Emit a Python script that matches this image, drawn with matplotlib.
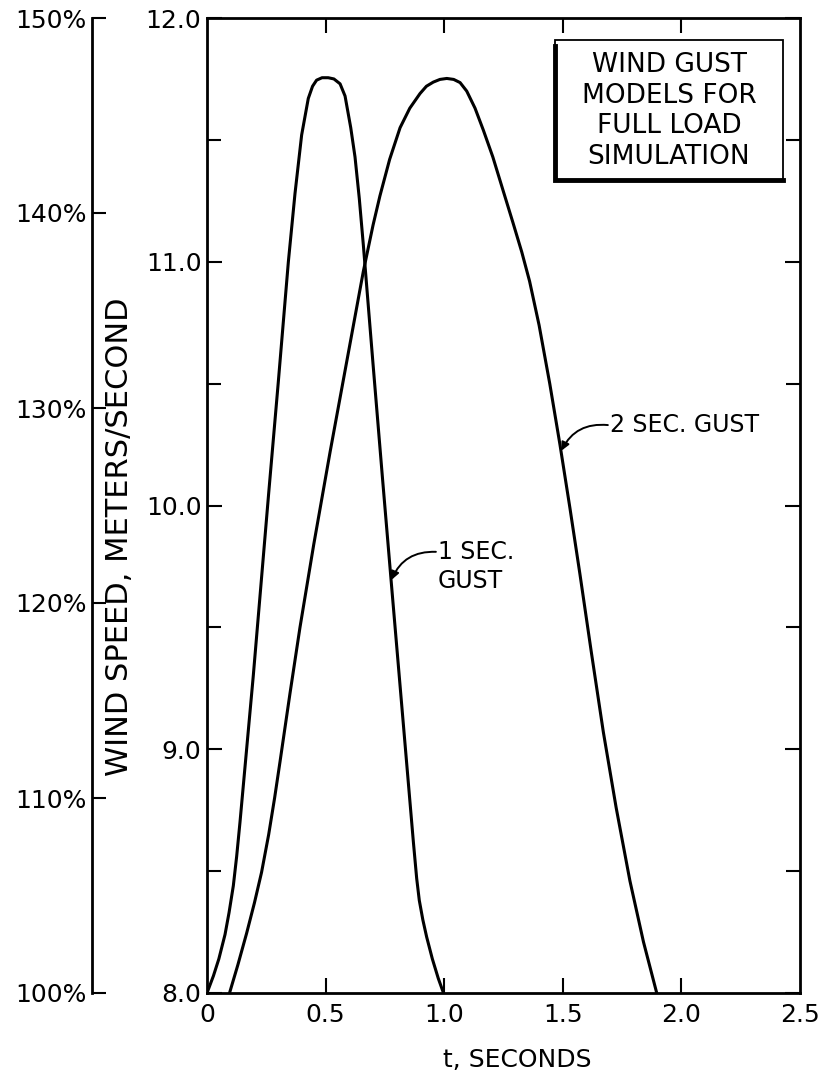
import matplotlib
matplotlib.use("Agg")
import matplotlib.pyplot as plt
from matplotlib.ticker import MultipleLocator, FixedLocator
from matplotlib.patches import Rectangle
from matplotlib.lines import Line2D

plt.rcParams['font.family'] = ['DejaVu Sans']

# 1-second gust: time (s) and wind speed (m/s)
gust1_t = [0.000, 0.027, 0.050, 0.076, 0.093, 0.111, 0.125, 0.139, 0.167, 0.195,
           0.221, 0.260, 0.300, 0.343, 0.371, 0.399, 0.427, 0.445, 0.462, 0.485,
           0.511, 0.535, 0.561, 0.582, 0.606, 0.624, 0.642, 0.659, 0.700, 0.740,
           0.779, 0.814, 0.842, 0.870, 0.884, 0.895, 0.910, 0.926, 0.950, 0.975,
           0.997]
gust1_v = [8.00, 8.07, 8.14, 8.24, 8.33, 8.44, 8.56, 8.70, 9.00, 9.30,
           9.60, 10.05, 10.50, 11.00, 11.28, 11.52, 11.67, 11.72, 11.745, 11.755,
           11.755, 11.75, 11.73, 11.68, 11.55, 11.43, 11.26, 11.07, 10.58, 10.11,
           9.66, 9.26, 8.94, 8.62, 8.47, 8.38, 8.30, 8.23, 8.14, 8.06,
           8.00]

# 2-second gust
gust2_t = [0.095, 0.130, 0.167, 0.200, 0.230, 0.260, 0.285, 0.308, 0.350, 0.392,
           0.450, 0.519, 0.589, 0.659, 0.700, 0.729, 0.770, 0.814, 0.855, 0.898,
           0.925, 0.954, 0.982, 1.011, 1.040, 1.067, 1.095, 1.130, 1.165, 1.205,
           1.249, 1.290, 1.327, 1.360, 1.400, 1.445, 1.488, 1.530, 1.572, 1.620,
           1.671, 1.725, 1.783, 1.840, 1.896]
gust2_v = [8.00, 8.115, 8.245, 8.37, 8.495, 8.65, 8.80, 8.95, 9.23, 9.50,
           9.84, 10.22, 10.59, 10.96, 11.15, 11.27, 11.42, 11.55, 11.63, 11.69,
           11.72, 11.737, 11.748, 11.752, 11.748, 11.735, 11.70, 11.63, 11.54, 11.43,
           11.29, 11.16, 11.04, 10.92, 10.74, 10.50, 10.25, 9.99, 9.72, 9.40,
           9.07, 8.76, 8.46, 8.21, 8.00]

x_ticks = [0.5, 1.0, 1.5, 2.0]
x_ticklabels = ["0", "0.5", "1.0", "1.5", "2.0", "2.5"]
y_major = [8.0, 9.0, 10.0, 11.0, 12.0]
pct_ticks = [100, 110, 120, 130, 140, 150]

box_text = "WIND GUST\nMODELS FOR\nFULL LOAD\nSIMULATION"

W, H = 822, 1080
fig = plt.figure(figsize=(W / 100, H / 100), dpi=100)

left, right, top, bottom = 207, 800, 18, 993
ax = fig.add_axes([left / W, 1 - bottom / H, (right - left) / W, (bottom - top) / H])

FS = 18
ax.plot(gust1_t, gust1_v, color='black', lw=2.2, solid_capstyle='round',
        solid_joinstyle='round')
ax.plot(gust2_t, gust2_v, color='black', lw=2.2, solid_capstyle='round',
        solid_joinstyle='round')

ax.set_xlim(0, 2.5)
ax.set_ylim(8.0, 12.0)
for s in ax.spines.values():
    s.set_linewidth(2.0)

ax.xaxis.set_major_locator(FixedLocator(x_ticks))
ax.set_xticklabels([])
ax.yaxis.set_major_locator(FixedLocator(y_major))
ax.yaxis.set_minor_locator(MultipleLocator(0.5))
ax.set_yticklabels([f"{v:.1f}" for v in y_major], fontsize=FS)
ax.tick_params(axis='both', which='both', direction='in', top=True, right=True,
               width=1.5, color='black')
ax.tick_params(axis='x', which='major', length=11)
ax.tick_params(axis='y', which='major', length=11, pad=4)
ax.tick_params(axis='y', which='minor', length=10)

# x labels under the axis, including the ends 0 and 2.5
for i, lab in enumerate(x_ticklabels):
    ax.text(i * 0.5, -0.01, lab, transform=ax.get_xaxis_transform(),
            ha='center', va='top', fontsize=FS)

# percentage scale
pax = fig.add_axes([92 / W, 1 - bottom / H, 0.001, (bottom - top) / H])
pax.set_ylim(100, 150)
pax.set_xlim(0, 1)
for k in ['right', 'top', 'bottom']:
    pax.spines[k].set_visible(False)
pax.spines['left'].set_linewidth(2.0)
pax.set_xticks([])
pax.yaxis.set_major_locator(FixedLocator(pct_ticks))
pax.set_yticklabels([f"{p}%" for p in pct_ticks], fontsize=FS)
pax.tick_params(axis='y', direction='in', length=10, width=1.5, pad=4)
pax.patch.set_visible(False)

# axis titles
fig.text(517 / W, 1 - 1060 / H, "t, SECONDS", ha='center', va='center', fontsize=FS)
fig.text(120 / W, 1 - 537 / H, "WIND SPEED, METERS/SECOND", ha='center',
         va='center', rotation=90, fontsize=22)

# title box with a heavy shadow on the left and bottom edges
bx0, bx1, by0, by1 = 555, 783, 40, 180
fig.patches.append(Rectangle((bx0 / W, 1 - by1 / H), (bx1 - bx0) / W, (by1 - by0) / H,
                             transform=fig.transFigure, fill=False, lw=1.3,
                             edgecolor='black'))
fig.lines.append(Line2D([bx0 / W, bx0 / W, bx1 / W], [1 - 46 / H, 1 - by1 / H, 1 - by1 / H],
                        transform=fig.transFigure, color='black', lw=3.5,
                        solid_joinstyle='miter'))
fig.text((bx0 + bx1) / 2 / W, 1 - 111 / H, box_text, ha='center', va='center',
         fontsize=19, linespacing=1.22)

# curve labels with curved leader arrows
arrow = dict(arrowstyle='-|>', connectionstyle='arc3,rad=0.35', lw=1.4,
             color='black', mutation_scale=12, shrinkA=0, shrinkB=1)
ax.text(1.699, 10.33, "2 SEC. GUST", fontsize=17, ha='left', va='center')
ax.annotate("", xy=(1.492, 10.22), xytext=(1.690, 10.33), arrowprops=arrow)
ax.text(0.974, 9.81, "1 SEC.", fontsize=17, ha='left', va='center')
ax.text(0.974, 9.69, "GUST", fontsize=17, ha='left', va='center')
ax.annotate("", xy=(0.776, 9.69), xytext=(0.965, 9.81), arrowprops=arrow)

fig.savefig("out.png", dpi=100)
